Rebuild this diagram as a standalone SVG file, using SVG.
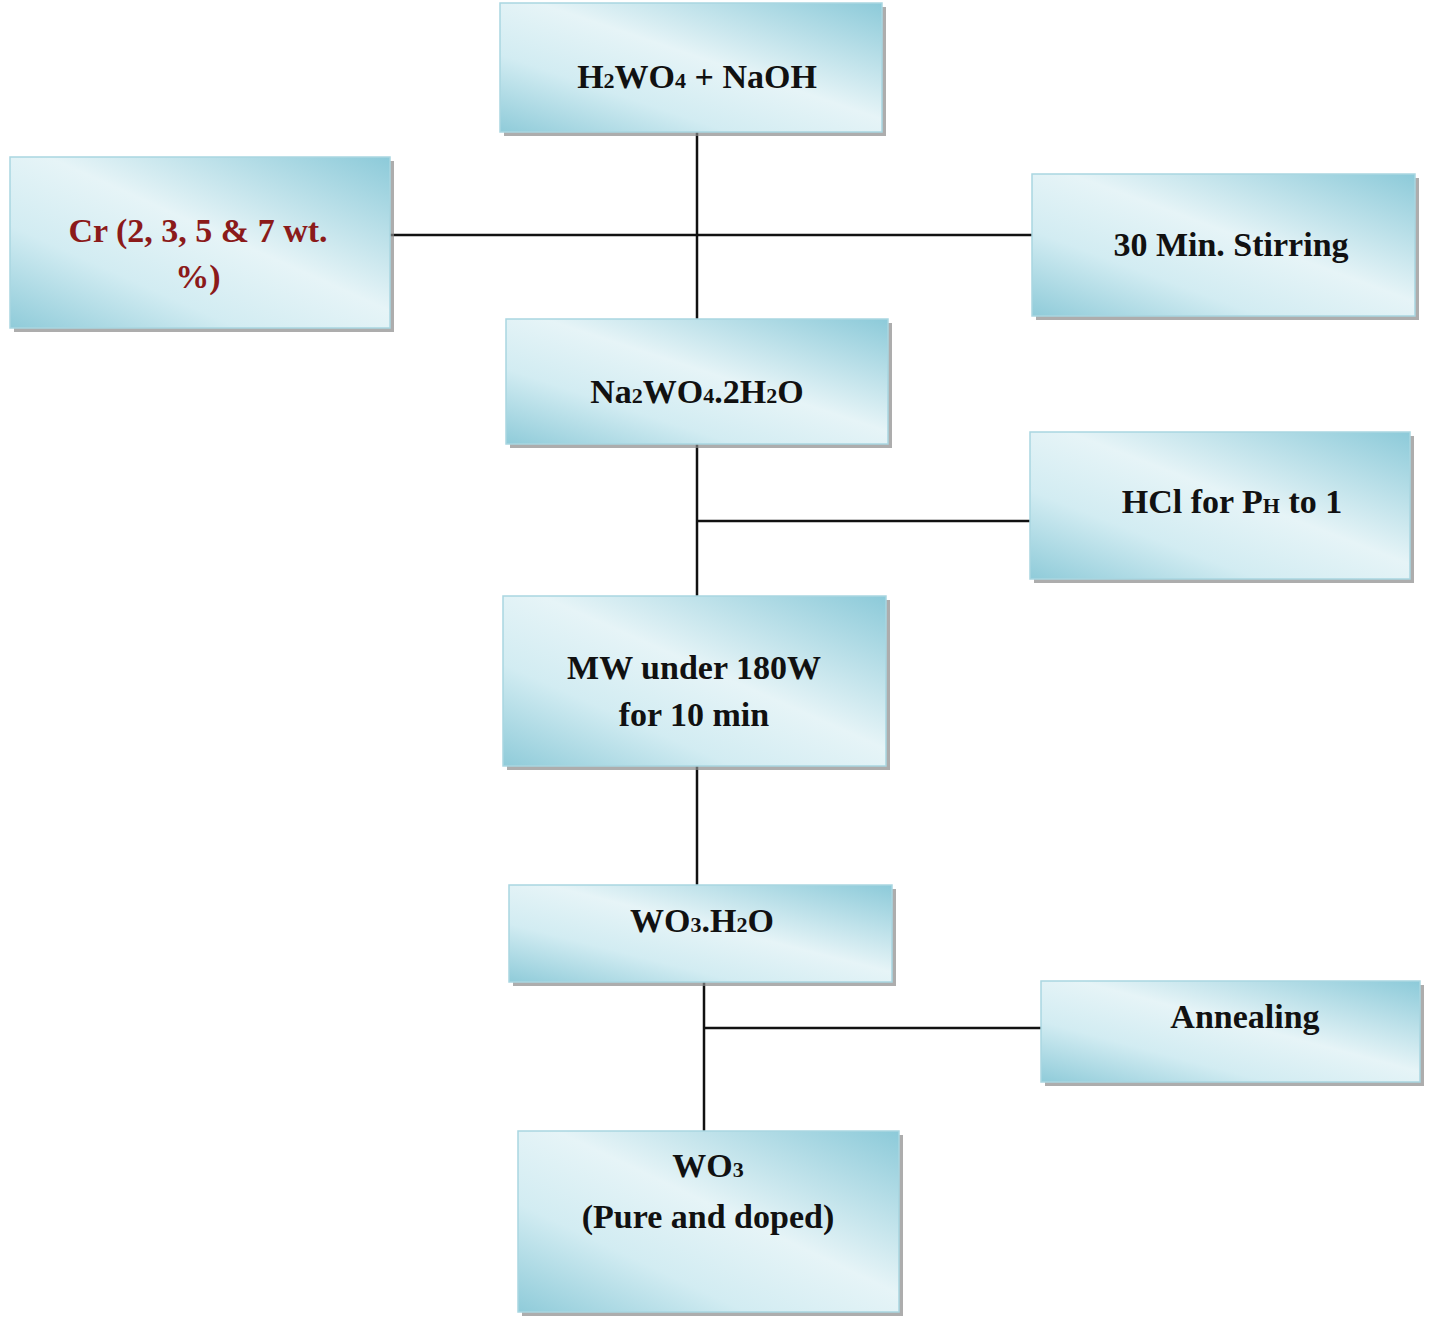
<svg xmlns="http://www.w3.org/2000/svg" width="1448" height="1318" viewBox="0 0 1448 1318">
<defs>
<linearGradient id="g" x1="0" y1="1" x2="1" y2="0">
<stop offset="0" stop-color="#8fcbd9"/>
<stop offset="0.3" stop-color="#d2ecf2"/>
<stop offset="0.55" stop-color="#e6f4f7"/>
<stop offset="1" stop-color="#8ccad9"/>
</linearGradient>
</defs>
<style>
.b{fill:url(#g);stroke:#a9d6e1;stroke-width:1.5}
.s{fill:#8a8a8a;opacity:0.7}
text{font-family:"Liberation Serif",serif;font-weight:bold;font-size:34px;text-anchor:middle;fill:#111}
.r{fill:#8b1a1a}
.sub{font-size:22px}
.c line{stroke:#111;stroke-width:2.5}
</style>
<g class="c">
<line x1="697" y1="132" x2="697" y2="319"/>
<line x1="390" y1="235" x2="1032" y2="235"/>
<line x1="697" y1="444" x2="697" y2="596"/>
<line x1="697" y1="521" x2="1030" y2="521"/>
<line x1="697" y1="766" x2="697" y2="885"/>
<line x1="704" y1="982" x2="704" y2="1131"/>
<line x1="704" y1="1028" x2="1041" y2="1028"/>
</g>
<g id="n1"><rect class="s" x="504" y="7" width="382" height="129"/><rect class="b" x="500" y="3" width="382" height="129"/>
<text x="697" y="88">H<tspan class="sub">2</tspan>WO<tspan class="sub">4</tspan> + NaOH</text></g>
<g id="n2"><rect class="s" x="14" y="161" width="380" height="171"/><rect class="b" x="10" y="157" width="380" height="171"/>
<text class="r" x="198" y="242">Cr (2, 3, 5 &amp; 7 wt.</text><text class="r" x="198" y="288">%)</text></g>
<g id="n3"><rect class="s" x="1036" y="178" width="383" height="142"/><rect class="b" x="1032" y="174" width="383" height="142"/>
<text x="1231" y="256">30 Min. Stirring</text></g>
<g id="n4"><rect class="s" x="510" y="323" width="382" height="125"/><rect class="b" x="506" y="319" width="382" height="125"/>
<text x="697" y="403">Na<tspan class="sub">2</tspan>WO<tspan class="sub">4</tspan>.2H<tspan class="sub">2</tspan>O</text></g>
<g id="n5"><rect class="s" x="1034" y="436" width="380" height="147"/><rect class="b" x="1030" y="432" width="380" height="147"/>
<text x="1232" y="513">HCl for P<tspan class="sub">H</tspan> to 1</text></g>
<g id="n6"><rect class="s" x="507" y="600" width="383" height="170"/><rect class="b" x="503" y="596" width="383" height="170"/>
<text x="694" y="679">MW under 180W</text><text x="694" y="726">for 10 min</text></g>
<g id="n7"><rect class="s" x="513" y="889" width="383" height="97"/><rect class="b" x="509" y="885" width="383" height="97"/>
<text x="702" y="932">WO<tspan class="sub">3</tspan>.H<tspan class="sub">2</tspan>O</text></g>
<g id="n8"><rect class="s" x="1045" y="985" width="379" height="101"/><rect class="b" x="1041" y="981" width="379" height="101"/>
<text x="1245" y="1028">Annealing</text></g>
<g id="n9"><rect class="s" x="522" y="1135" width="381" height="181"/><rect class="b" x="518" y="1131" width="381" height="181"/>
<text x="708" y="1177">WO<tspan class="sub">3</tspan></text><text x="708" y="1228">(Pure and doped)</text></g>
</svg>
